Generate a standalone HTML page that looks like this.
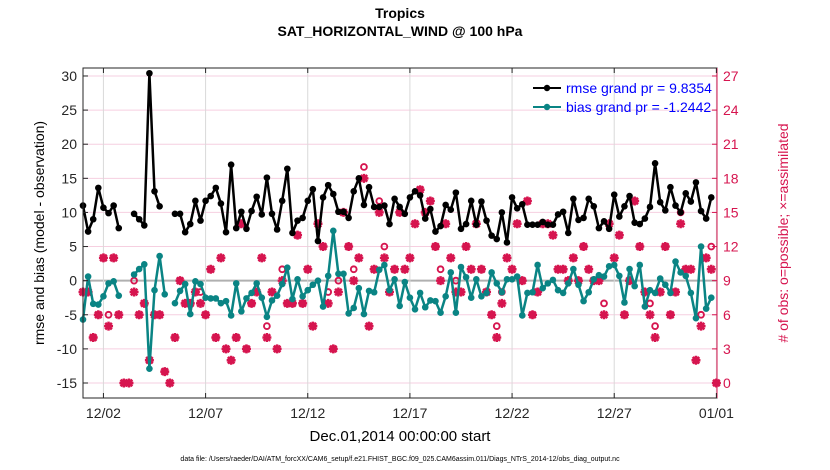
<!DOCTYPE html>
<html><head><meta charset="utf-8">
<style>
html,body{margin:0;padding:0;background:#fff;}
svg{display:block;font-family:"Liberation Sans",Arial,sans-serif;}
</style></head>
<body>
<svg id="chart" width="830" height="470" viewBox="0 0 830 470">
  <text x="400" y="18" text-anchor="middle" font-size="14" font-weight="bold">Tropics</text>
  <text x="400" y="36" text-anchor="middle" font-size="14" font-weight="bold">SAT_HORIZONTAL_WIND @ 100 hPa</text>
  <g id="grid"></g>
  <g id="marks"></g>
  <g id="axes"></g>
  <text transform="translate(44,233) rotate(-90)" text-anchor="middle" font-size="14">rmse and bias (model - observation)</text>
  <text transform="translate(788,233) rotate(-90)" text-anchor="middle" font-size="14" fill="#d6154f"># of obs: o=possible; ×=assimilated</text>
  <text x="400" y="441" text-anchor="middle" font-size="15">Dec.01,2014 00:00:00 start</text>
  <text x="400" y="461" text-anchor="middle" font-size="7">data file: /Users/raeder/DAI/ATM_forcXX/CAM6_setup/f.e21.FHIST_BGC.f09_025.CAM6assim.011/Diags_NTrS_2014-12/obs_diag_output.nc</text>
  <g>
    <g>
      <line x1="533" y1="88" x2="561" y2="88" stroke="#000" stroke-width="2"/>
      <circle cx="547" cy="88" r="3.2" fill="#000"/>
      <text x="566" y="93" font-size="14" fill="#0000ff">rmse grand pr = 9.8354</text>
    </g>
    <g>
      <line x1="533" y1="107" x2="561" y2="107" stroke="#0a8484" stroke-width="2"/>
      <circle cx="547" cy="107" r="3.2" fill="#0a8484"/>
      <text x="566" y="112" font-size="14" fill="#0000ff">bias grand pr = -1.2442</text>
    </g>
  </g>
</svg>
<script>
const rmse=[11.0,7.2,9.0,13.6,10.7,9.9,11.0,7.7,null,null,9.8,9.0,8.1,30.4,13.1,10.9,null,null,9.8,9.8,7.1,8.3,11.7,8.8,11.7,12.4,13.6,11.3,7.1,17.0,7.7,10.1,7.6,10.2,12.3,9.7,15.1,9.8,7.5,11.7,16.4,7.0,8.8,9.2,11.7,13.4,5.8,12.2,14.0,12.7,10.1,10.1,9.2,13.1,15.0,11.1,13.7,10.8,10.8,11.0,8.3,12.0,10.8,9.8,12.2,13.1,12.5,9.1,10.5,7.2,8.0,11.1,10.4,12.9,7.6,8.3,11.7,8.2,11.6,8.8,6.6,6.1,10.0,5.6,12.2,10.6,11.2,8.2,8.2,8.2,8.6,8.2,8.2,9.7,10.1,7.0,12.0,8.9,9.2,12.0,10.9,7.7,8.7,7.6,12.6,9.4,10.9,12.4,8.5,8.3,9.1,10.8,17.2,11.5,10.3,13.7,11.0,10.0,12.8,11.6,14.4,10.2,9.1,12.2,null];
const bias=[-5.7,0.6,-3.4,-3.5,-2.3,-0.4,-0.1,-2.2,null,null,0.9,1.7,2.4,-12.9,-1.4,3.6,-2.0,null,-3.3,-1.5,-0.5,-4.9,-0.1,-0.5,-2.5,-2.6,-2.6,-3.3,-3.0,-5.1,-0.4,-4.5,-2.6,-1.8,-0.4,-2.5,-5.3,-2.9,-2.2,-0.5,1.9,-2.7,0.2,-2.3,-1.4,-0.6,0.0,-3.8,0.7,7.3,1.0,1.0,-4.8,-4.0,-1.1,-4.9,-1.5,-1.7,1.6,2.3,-1.4,0.2,-3.7,-0.2,-2.5,-4.2,-1.8,-3.9,-2.9,-3.0,-4.7,-2.3,1.2,-4.7,2.0,0.5,-2.5,0.2,-2.3,-1.8,1.2,-0.4,-1.7,0.2,0.2,0.6,-5.1,-1.8,-1.7,2.3,-1.1,-0.4,0.1,-1.4,-1.8,-0.4,1.7,-0.6,-3.0,-1.7,0.2,0.8,0.6,2.1,2.3,0.7,-3.2,1.7,-0.8,2.3,-3.8,-1.4,-1.8,0.3,-0.6,-1.8,2.8,1.2,0.7,-1.8,-5.5,5.0,-4.1,-2.5,null];
const obsPossible=[8,8,4,6,11,6,11,6,0,0,9,6,7,2,6,6,1,0,4,9,7,7,8,8,6,10,4,11,3,2,4,14,3,7,8,11,5,8,3,10,7,7,13,7,10,5,14,12,8,3,9,15,12,10,11,19,5,10,16,12,8,10,15,10,11,14,17,15,16,12,10,14,11,9,8,12,10,14,10,8,6,5,8,11,10,14,9,16,6,8,14,14,13,10,10,9,11,9,12,10,9,9,7,14,11,13,6,9,16,12,8,7,5,8,12,6,8,15,10,10,2,6,11,12,0];
const obsAssim=[8,8,4,6,11,5,11,6,0,0,8,6,7,2,6,6,1,0,4,9,7,7,8,7,6,10,4,11,3,2,4,14,3,7,8,11,4,8,3,9,7,7,13,7,10,5,14,12,7,3,8,15,12,9,11,18,5,10,15,11,8,10,15,10,11,14,17,15,16,12,9,14,11,8,8,12,10,14,10,8,6,4,7,11,10,14,9,16,6,8,14,14,13,10,10,9,11,9,12,10,9,9,6,14,11,13,6,9,16,12,8,6,4,8,12,6,8,14,10,10,2,5,11,10,0];
const leftTicks=[-15,-10,-5,0,5,10,15,20,25,30];
const rightTicks=[0,3,6,9,12,15,18,21,24,27];
const xTickDays=[1,6,11,16,21,26,31];
const xTickLabels=["12/02","12/07","12/12","12/17","12/22","12/27","01/01"];

const NS="http://www.w3.org/2000/svg";
const L=83,R=717,T=68,B=398;
const yMin=-17.2,yMax=31.17,xMax=31.03;
const X=d=>L+(d/xMax)*(R-L);
const Y=v=>B-(v-yMin)/(yMax-yMin)*(B-T);
const Y2=r=>Y(r/0.6-15);
const stepX=i=>X(i/4);
function mk(tag,attrs,parent){const e=document.createElementNS(NS,tag);for(const k in attrs)e.setAttribute(k,attrs[k]);parent.appendChild(e);return e;}
const grid=document.getElementById('grid'),marks=document.getElementById('marks'),axes=document.getElementById('axes');
const MAG="#d6154f",TEAL="#0a8484";

leftTicks.forEach(v=>{
  const l=mk('line',{x1:L,x2:R,y1:Y(v),y2:Y(v),stroke:v===0?'#b0b0b0':'#f6cfe0','stroke-width':v===0?2:1},grid);
  
  
});
xTickDays.forEach(d=>{
  const l=mk('line',{x1:X(d),x2:X(d),y1:T,y2:B,stroke:'#d9d9d9','stroke-width':1},grid);
  
  
});

function series(vals,color,name){
  const g=mk('g',{},marks);
  
  
  let seg=[];
  const flush=()=>{if(seg.length>1){mk('polyline',{points:seg.join(' '),fill:'none',stroke:color,'stroke-width':2.5,'stroke-linejoin':'round'},g);}seg=[];};
  vals.forEach((v,i)=>{if(v===null){flush();}else{seg.push(stepX(i)+','+Y(v));}});
  flush();
  vals.forEach((v,i)=>{if(v!==null){
    const c=mk('circle',{cx:stepX(i),cy:Y(v),r:3.3,fill:color},g);
    
    
  }});
}
const og=mk('g',{},marks);


obsAssim.forEach((r,i)=>{
  const x=stepX(i),y=Y2(r),s=4.5,d=3.3;
  const a=mk('path',{d:`M${x-s},${y}H${x+s}M${x},${y-s}V${y+s}M${x-d},${y-d}L${x+d},${y+d}M${x-d},${y+d}L${x+d},${y-d}`,stroke:MAG,'stroke-width':2.5,fill:'none'},og);
  
  
});
obsPossible.forEach((r,i)=>{
  const c=mk('circle',{cx:stepX(i),cy:Y2(r),r:2.9,fill:'none',stroke:MAG,'stroke-width':1.9},og);
  
  
});
series(rmse,'#000','rmse-series');
series(bias,TEAL,'bias-series');

mk('rect',{x:L,y:T,width:R-L,height:B-T,fill:'none',stroke:'#262626','stroke-width':1},axes);
mk('line',{x1:R,x2:R,y1:T,y2:B,stroke:MAG,'stroke-width':1},axes);
leftTicks.forEach(v=>{
  mk('line',{x1:L,x2:L+5,y1:Y(v),y2:Y(v),stroke:'#262626'},axes);
  const t=mk('text',{x:L-6,y:Y(v)+5,'text-anchor':'end','font-size':14,fill:'#262626'},axes);
  t.textContent=v;
  
  
});
rightTicks.forEach(r=>{
  mk('line',{x1:R-5,x2:R,y1:Y2(r),y2:Y2(r),stroke:MAG},axes);
  const t=mk('text',{x:R+6,y:Y2(r)+5,'text-anchor':'start','font-size':14,fill:MAG},axes);
  t.textContent=r;
  
  
});
xTickDays.forEach((d,i)=>{
  mk('line',{x1:X(d),x2:X(d),y1:B,y2:B-5,stroke:'#262626'},axes);
  mk('line',{x1:X(d),x2:X(d),y1:T,y2:T+5,stroke:'#262626'},axes);
  const t=mk('text',{x:X(d),y:B+20,'text-anchor':'middle','font-size':14,fill:'#262626'},axes);
  t.textContent=xTickLabels[i];
  
  
});
</script>
</body></html>
